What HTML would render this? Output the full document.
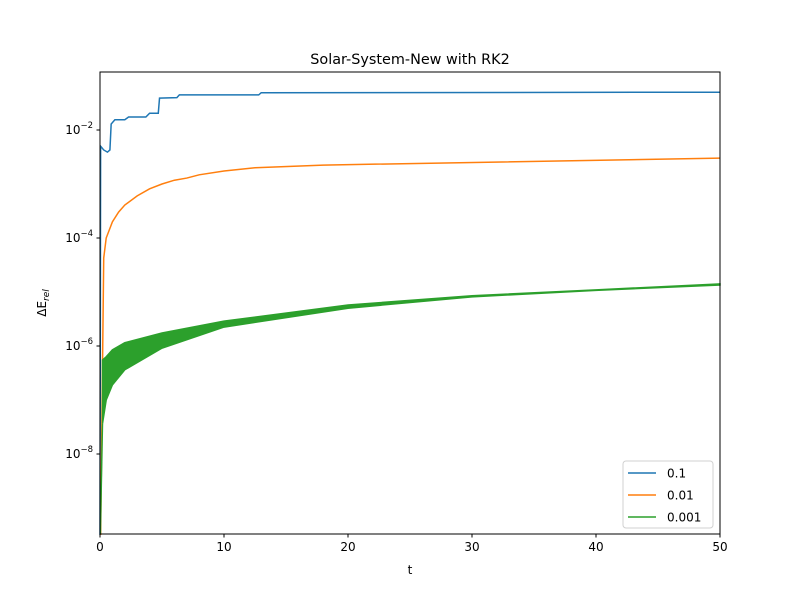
<!DOCTYPE html>
<html><head><meta charset="utf-8"><style>body{margin:0;background:#fff}svg{font-family:"DejaVu Sans","Liberation Sans",sans-serif}</style></head>
<body>
<svg id="chart" width="800" height="600">
<rect width="800" height="600" fill="#fff"/>
<text x="410" y="64" text-anchor="middle" font-size="14.4">Solar-System-New with RK2</text>
<text x="410" y="574" text-anchor="middle" font-size="12">t</text>
<text transform="translate(46,303) rotate(-90)" text-anchor="middle" font-size="12">ΔE<tspan font-style="italic" font-size="9" dy="3">rel</tspan></text>
<g id="plot"></g>
<rect x="100" y="72" width="620" height="462" fill="none" stroke="#000" stroke-width="1"/>
<g id="legend">
<rect x="623" y="461" width="90" height="67" rx="3" fill="#fff" stroke="#ccc" opacity="0.9"/>
</g>
</svg>
<script>
const xTicks=[0,10,20,30,40,50];
const yTicks=[-2,-4,-6,-8];
const seriesNames=["0.1","0.01","0.001"];
const colors=["#1f77b4","#ff7f0e","#2ca02c"];
const blueT=[0,0.05,0.3,0.6,0.8,0.9,1.2,2,2.3,3.7,4,4.7,4.8,6.2,6.4,12.8,13,50];
const blueV=[-9.5,-2.3,-2.37,-2.41,-2.37,-1.89,-1.81,-1.81,-1.76,-1.76,-1.69,-1.69,-1.41,-1.40,-1.35,-1.35,-1.31,-1.30];
const orangeT=[0.05,0.3,0.5,1,1.5,2,3,4,5,6,7,8,10,12.5,18,50];
const orangeV=[-9.5,-4.37,-4.0,-3.70,-3.52,-3.39,-3.22,-3.09,-3.0,-2.93,-2.89,-2.83,-2.76,-2.70,-2.65,-2.52];
const greenT=[0.2,0.5,1,2,5,10,20,30,40,50];
const greenUpper=[-6.26,-6.2,-6.07,-5.94,-5.76,-5.54,-5.24,-5.07,-4.96,-4.85];
const greenLower=[-7.44,-7.0,-6.72,-6.44,-6.04,-5.65,-5.30,-5.09,-4.97,-4.87];
const X=t=>100+t/50*620;
const Y=v=>130-(v+2)*54;
const NS="http://www.w3.org/2000/svg";
const svg=document.getElementById('chart'),plot=document.getElementById('plot'),leg=document.getElementById('legend');
function mk(tag,a,p){const e=document.createElementNS(NS,tag);for(const k in a)e.setAttribute(k,a[k]);(p||svg).appendChild(e);return e;}
xTicks.forEach(t=>{
 const l=mk('line',{x1:X(t),x2:X(t),y1:534,y2:537.5,stroke:'#000'});
 
 
 const tx=mk('text',{x:X(t),y:551,'text-anchor':'middle','font-size':12});tx.textContent=t;
 
 
});
yTicks.forEach(v=>{
 const l=mk('line',{x1:96.5,x2:100,y1:Y(v),y2:Y(v),stroke:'#000'});
 
 
 const tx=mk('text',{x:93,y:Y(v)+4,'text-anchor':'end','font-size':12});
 tx.innerHTML='10<tspan font-size="8.5" dy="-6">−'+(-v)+'</tspan>';
 
 
});
function line(T,V,c,name){
 const p=mk('polyline',{points:T.map((t,i)=>X(t)+','+Y(V[i])).join(' '),fill:'none',stroke:c,'stroke-width':1.5},plot);
 
 
}
line(blueT,blueV,colors[0],'series-0.1');
line(orangeT,orangeV,colors[1],'series-0.01');
const pts=greenT.map((t,i)=>X(t)+','+Y(greenUpper[i])).concat(greenT.slice().reverse().map((t,j)=>{const i=greenT.length-1-j;return X(t)+','+Y(greenLower[i]);}));
const g=mk('polygon',{points:pts.join(' '),fill:colors[2],stroke:colors[2],'stroke-width':1.5},plot);


const gs=mk('line',{x1:X(0.03),x2:X(0.2),y1:534,y2:Y(greenLower[0]),stroke:colors[2],'stroke-width':1.5},plot);


seriesNames.forEach((n,i)=>{
 const y=473+i*22;
 const l=mk('line',{x1:628,x2:656,y1:y,y2:y,stroke:colors[i],'stroke-width':1.5},leg);
 
 
 const t=mk('text',{x:667,y:y+4.5,'font-size':12},leg);t.textContent=n;
 
 
});
</script>
</body></html>
